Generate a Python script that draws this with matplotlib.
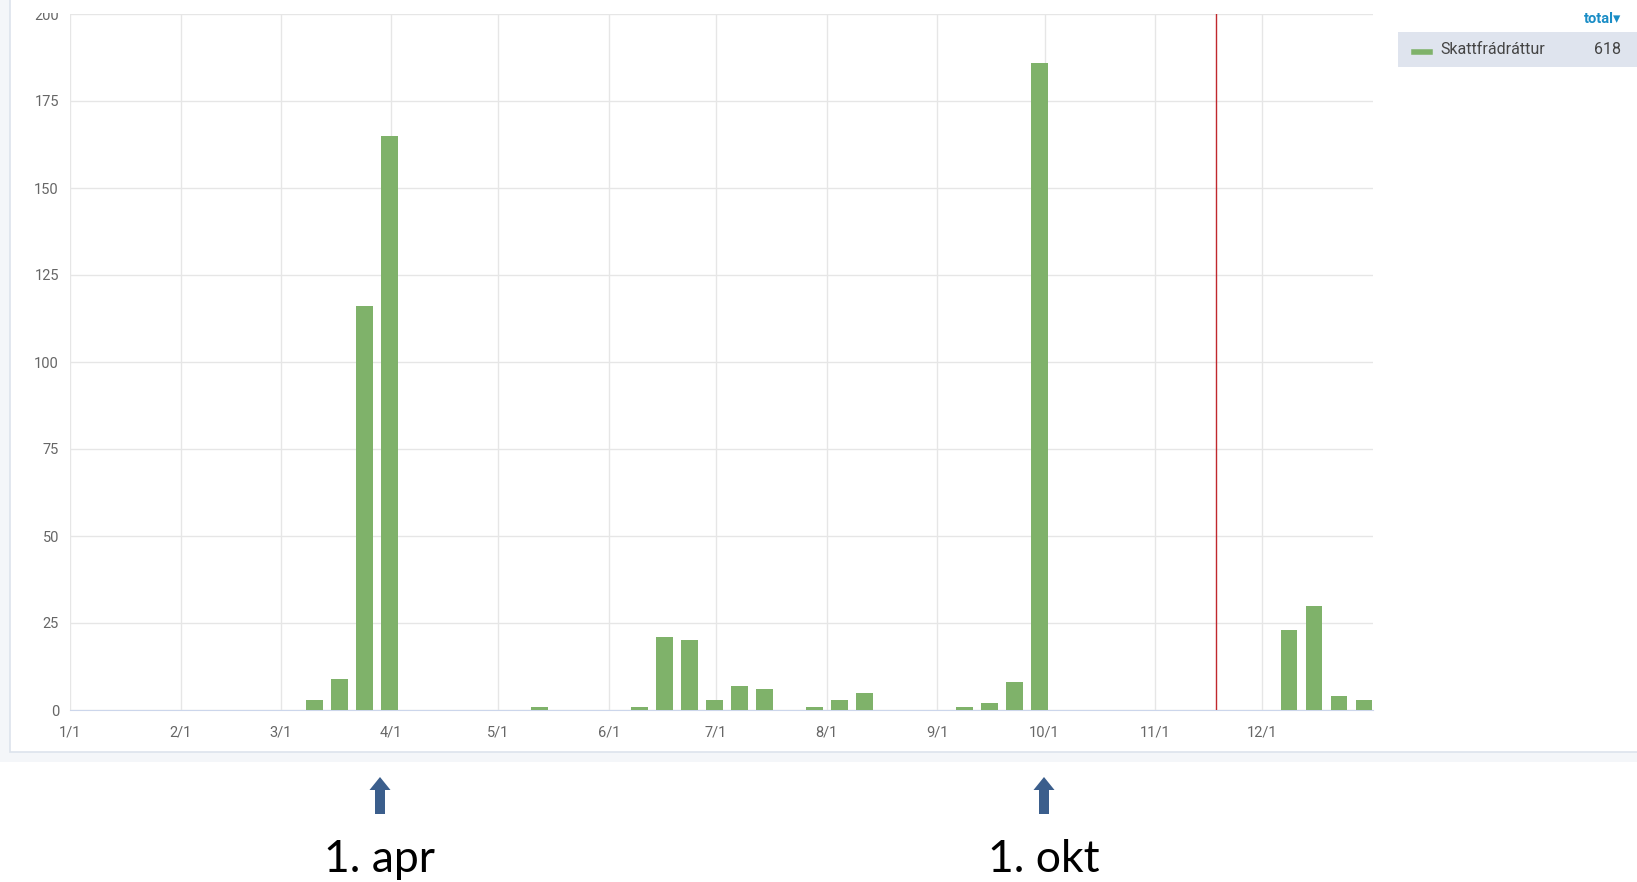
import matplotlib
matplotlib.use("Agg")
import matplotlib.pyplot as plt
from matplotlib.patches import Rectangle, FancyArrow
import pandas as pd

# weekly counts (week start dates) for Skattfrádráttur
week_start = ["2019-03-07", "2019-03-14", "2019-03-21", "2019-03-28",
              "2019-05-09",
              "2019-06-06", "2019-06-13", "2019-06-20", "2019-06-27", "2019-07-04", "2019-07-11",
              "2019-07-25", "2019-08-01", "2019-08-08",
              "2019-09-05", "2019-09-12", "2019-09-19", "2019-09-26",
              "2019-12-05", "2019-12-12", "2019-12-19", "2019-12-26"]
counts = [3, 9, 116, 165,
          1,
          1, 21, 20, 3, 7, 6,
          1, 3, 5,
          1, 2, 8, 186,
          23, 30, 4, 3]
month_ticks = pd.date_range("2019-01-01", "2019-12-01", freq="MS")
month_labels = ["1/1", "2/1", "3/1", "4/1", "5/1", "6/1", "7/1", "8/1", "9/1", "10/1", "11/1", "12/1"]
y_ticks = [0, 25, 50, 75, 100, 125, 150, 175, 200]
today = "2019-11-18"
series_name = "Skattfrádráttur"
total = sum(counts)
mark_labels = ["1. apr", "1. okt"]

W, H = 1637, 882
fig = plt.figure(figsize=(W / 100, H / 100), dpi=100)
fig.patch.set_facecolor("white")

def fx(x):
    return x / W

def fy(y):
    return 1 - y / H

# page background + white card
fig.add_artist(Rectangle((0, fy(762)), 1, 1 - fy(762), transform=fig.transFigure,
                         facecolor="#f4f6f9", edgecolor="none", zorder=-10))
fig.add_artist(Rectangle((fx(10), fy(752)), 1, 1, transform=fig.transFigure,
                         facecolor="white", edgecolor="#dde3ec", lw=1.2, zorder=-9))

# legend box
fig.add_artist(Rectangle((fx(1398), fy(67)), 1, fy(32) - fy(67), transform=fig.transFigure,
                         facecolor="#dfe4ee", edgecolor="none", zorder=-8))
fig.add_artist(plt.Line2D([fx(1414), fx(1430)], [fy(52), fy(52)], transform=fig.transFigure,
                          color="#7fb26a", lw=4))
fig.text(fx(1440), fy(50), series_name, fontsize=11.5, color="#444444", va="center",
         family=["Roboto", "DejaVu Sans"])
fig.text(fx(1621), fy(50), str(total), fontsize=11.5, color="#444444", va="center", ha="right",
         family=["Roboto", "DejaVu Sans"])
fig.text(fx(1621), fy(19), "total\u25be", fontsize=10.5, color="#1a8dc6", va="center", ha="right",
         fontweight="bold", family=["Roboto", "DejaVu Sans"])

ax = fig.add_axes([fx(70), fy(710), fx(1373) - fx(70), fy(14) - fy(710)])
x = pd.to_datetime(week_start) + pd.Timedelta(hours=84)
ax.bar(x, counts, width=4.7, color="#7fb26a", zorder=3)
ax.axvline(pd.Timestamp(today), color="#c0282d", lw=1.0, zorder=4)

ax.set_xlim(pd.Timestamp("2019-01-01"), pd.Timestamp("2020-01-01"))
ax.set_ylim(0, 200)
ax.set_xticks(month_ticks)
ax.set_xticklabels(month_labels)
ax.set_yticks(y_ticks)
ax.tick_params(axis="both", length=0, labelsize=10.5, labelcolor="#666666")
ax.tick_params(axis="x", pad=11)
ax.tick_params(axis="y", pad=8)
for lab in ax.get_xticklabels() + ax.get_yticklabels():
    lab.set_family(["Roboto", "DejaVu Sans"])
ax.grid(True, color="#e6e6e6", lw=1, zorder=0)
for s in ["top", "right", "left"]:
    ax.spines[s].set_visible(False)
ax.spines["bottom"].set_color("#ccd6eb")
ax.set_facecolor("none")

# hide the top of the clipped "200" label like the screenshot
fig.add_artist(Rectangle((fx(15), fy(13)), fx(68) - fx(15), 1, transform=fig.transFigure,
                         facecolor="white", edgecolor="none", zorder=10))

# arrows + annotations below the chart
for xp, lab in zip([380, 1044], mark_labels):
    xf = fx(xp)
    fig.add_artist(FancyArrow(xf, fy(814), 0, fy(777) - fy(814), width=fx(10), head_width=fx(21),
                              head_length=(fy(777) - fy(790)), length_includes_head=True,
                              transform=fig.transFigure, color="#3b5e8c", lw=0))
    fig.text(xf, fy(872), lab, fontsize=32, ha="center", va="baseline", color="black",
             family=["Lato", "DejaVu Sans"])

fig.savefig("out.png", dpi=100)
